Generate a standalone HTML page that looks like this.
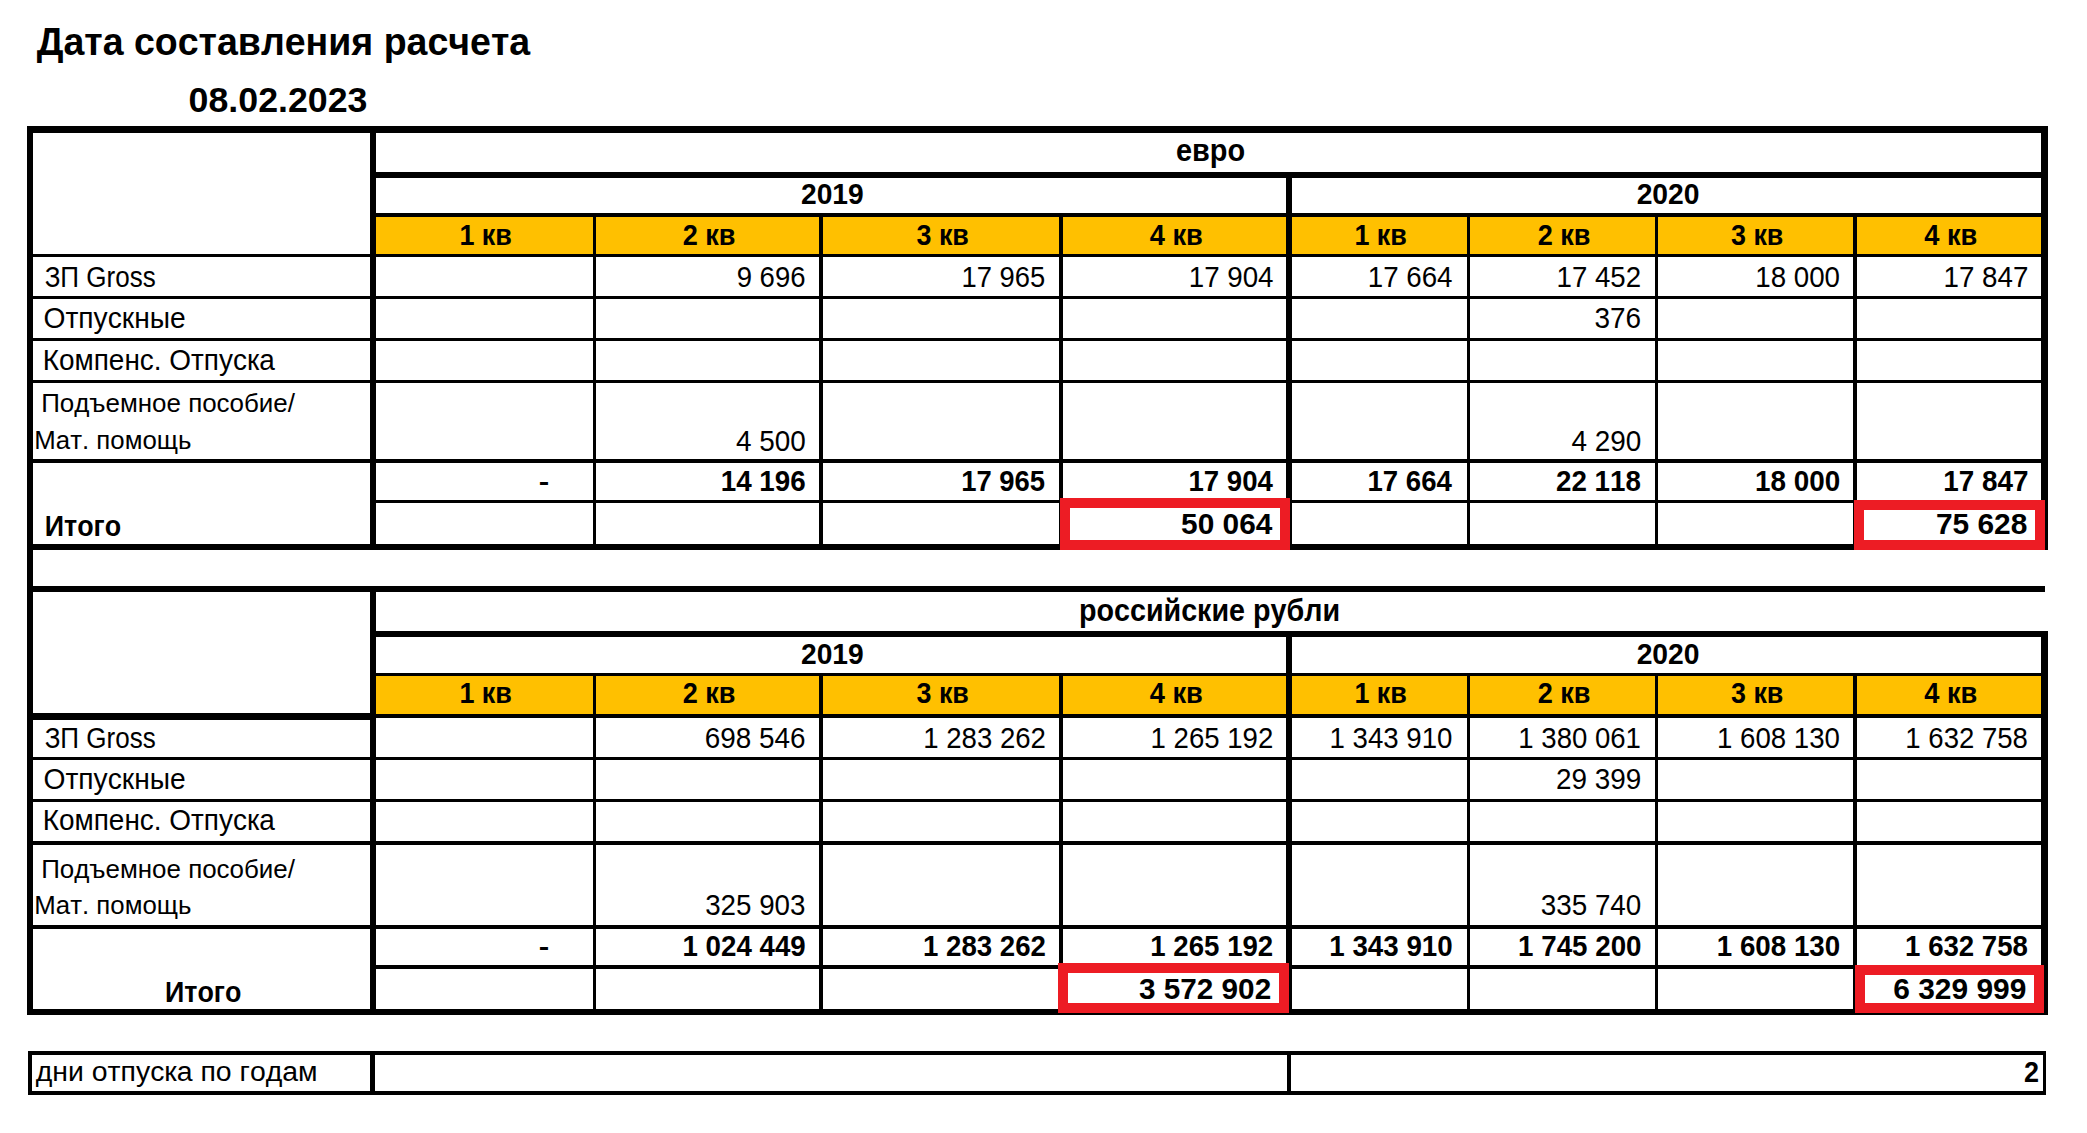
<!DOCTYPE html>
<html><head><meta charset="utf-8"><style>
html,body{margin:0;padding:0;background:#fff;width:2087px;height:1133px;overflow:hidden}
svg{display:block}
text{font-family:"Liberation Sans",sans-serif;fill:#000;font-kerning:none}
</style></head><body>
<svg width="2087" height="1133" viewBox="0 0 2087 1133">
<g shape-rendering="crispEdges">
<rect x="376" y="217" width="1665" height="37" fill="#FFC000"/>
<rect x="27" y="126" width="2021" height="7" fill="#000"/>
<rect x="376" y="172" width="1665" height="6" fill="#000"/>
<rect x="376" y="213" width="1665" height="4" fill="#000"/>
<rect x="33" y="254" width="2008" height="3" fill="#000"/>
<rect x="33" y="296" width="2008" height="3" fill="#000"/>
<rect x="33" y="338" width="2008" height="3" fill="#000"/>
<rect x="33" y="380" width="2008" height="3" fill="#000"/>
<rect x="33" y="459" width="2008" height="4" fill="#000"/>
<rect x="376" y="500" width="1665" height="3" fill="#000"/>
<rect x="27" y="544" width="2021" height="6" fill="#000"/>
<rect x="370" y="126" width="6" height="424" fill="#000"/>
<rect x="2041" y="126" width="7" height="424" fill="#000"/>
<rect x="1286" y="172" width="6" height="378" fill="#000"/>
<rect x="593" y="213" width="3" height="337" fill="#000"/>
<rect x="819" y="213" width="4" height="337" fill="#000"/>
<rect x="1059" y="213" width="4" height="337" fill="#000"/>
<rect x="1467" y="213" width="3" height="337" fill="#000"/>
<rect x="1655" y="213" width="3" height="337" fill="#000"/>
<rect x="1853" y="213" width="4" height="337" fill="#000"/>
<rect x="376" y="676" width="1665" height="38" fill="#FFC000"/>
<rect x="27" y="586" width="2018" height="6" fill="#000"/>
<rect x="376" y="631" width="1665" height="6" fill="#000"/>
<rect x="376" y="673" width="1665" height="3" fill="#000"/>
<rect x="33" y="714" width="2008" height="4" fill="#000"/>
<rect x="33" y="757" width="2008" height="3" fill="#000"/>
<rect x="33" y="799" width="2008" height="3" fill="#000"/>
<rect x="33" y="841" width="2008" height="4" fill="#000"/>
<rect x="33" y="925" width="2008" height="4" fill="#000"/>
<rect x="376" y="965" width="1665" height="4" fill="#000"/>
<rect x="27" y="1009" width="2021" height="6" fill="#000"/>
<rect x="370" y="586" width="6" height="429" fill="#000"/>
<rect x="2041" y="631" width="7" height="384" fill="#000"/>
<rect x="1286" y="631" width="6" height="384" fill="#000"/>
<rect x="593" y="673" width="3" height="342" fill="#000"/>
<rect x="819" y="673" width="4" height="342" fill="#000"/>
<rect x="1059" y="673" width="4" height="342" fill="#000"/>
<rect x="1467" y="673" width="3" height="342" fill="#000"/>
<rect x="1655" y="673" width="3" height="342" fill="#000"/>
<rect x="1853" y="673" width="4" height="342" fill="#000"/>
<rect x="27" y="126" width="6" height="889" fill="#000"/>
<rect x="33" y="713" width="337" height="7" fill="#000"/>
<rect x="1060" y="498" width="230" height="10" fill="#ED1C24"/>
<rect x="1060" y="540" width="230" height="10" fill="#ED1C24"/>
<rect x="1060" y="498" width="10" height="52" fill="#ED1C24"/>
<rect x="1280" y="498" width="10" height="52" fill="#ED1C24"/>
<rect x="1854" y="500" width="191" height="10" fill="#ED1C24"/>
<rect x="1854" y="540" width="191" height="10" fill="#ED1C24"/>
<rect x="1854" y="500" width="10" height="50" fill="#ED1C24"/>
<rect x="2035" y="500" width="10" height="50" fill="#ED1C24"/>
<rect x="1058" y="963" width="231" height="10" fill="#ED1C24"/>
<rect x="1058" y="1003" width="231" height="10" fill="#ED1C24"/>
<rect x="1058" y="963" width="10" height="50" fill="#ED1C24"/>
<rect x="1279" y="963" width="10" height="50" fill="#ED1C24"/>
<rect x="1855" y="965" width="189" height="10" fill="#ED1C24"/>
<rect x="1855" y="1003" width="189" height="10" fill="#ED1C24"/>
<rect x="1855" y="965" width="10" height="48" fill="#ED1C24"/>
<rect x="2034" y="965" width="10" height="48" fill="#ED1C24"/>
<rect x="28" y="1051" width="2018" height="4" fill="#000"/>
<rect x="28" y="1091" width="2018" height="4" fill="#000"/>
<rect x="28" y="1051" width="4" height="44" fill="#000"/>
<rect x="2043" y="1051" width="3" height="44" fill="#000"/>
<rect x="370" y="1051" width="5" height="44" fill="#000"/>
<rect x="1287" y="1051" width="4" height="44" fill="#000"/>
</g>
<text transform="translate(36.67,55.00) scale(0.9555,1)" font-size="39.29" font-weight="bold">Дата составления расчета</text>
<text transform="translate(188.59,112.00) scale(1.0327,1)" font-size="34.61" font-weight="bold">08.02.2023</text>
<text transform="translate(1175.88,160.80) scale(0.9462,1)" font-size="30.58" font-weight="bold">евро</text>
<text transform="translate(800.95,204.00) scale(0.9694,1)" font-size="29.11" font-weight="bold">2019</text>
<text transform="translate(1636.63,204.00) scale(0.9716,1)" font-size="29.11" font-weight="bold">2020</text>
<text transform="translate(459.38,244.80) scale(0.9420,1)" font-size="28.64" font-weight="bold">1 кв</text>
<text transform="translate(682.63,244.80) scale(0.9468,1)" font-size="28.64" font-weight="bold">2 кв</text>
<text transform="translate(916.50,244.80) scale(0.9389,1)" font-size="28.64" font-weight="bold">3 кв</text>
<text transform="translate(1149.75,244.80) scale(0.9520,1)" font-size="28.64" font-weight="bold">4 кв</text>
<text transform="translate(1354.38,244.80) scale(0.9420,1)" font-size="28.64" font-weight="bold">1 кв</text>
<text transform="translate(1537.63,244.80) scale(0.9468,1)" font-size="28.64" font-weight="bold">2 кв</text>
<text transform="translate(1731.00,244.80) scale(0.9389,1)" font-size="28.64" font-weight="bold">3 кв</text>
<text transform="translate(1924.25,244.80) scale(0.9520,1)" font-size="28.64" font-weight="bold">4 кв</text>
<text transform="translate(44.65,287.00) scale(0.9095,1)" font-size="28.64" font-weight="normal">ЗП Gross</text>
<text transform="translate(43.46,328.20) scale(0.9853,1)" font-size="28.64" font-weight="normal">Отпускные</text>
<text transform="translate(42.71,369.90) scale(0.9761,1)" font-size="28.64" font-weight="normal">Компенс. Отпуска</text>
<text transform="translate(41.20,411.80) scale(1.0069,1)" font-size="25.76" font-weight="normal">Подъемное пособие/</text>
<text transform="translate(34.28,448.80) scale(1.0026,1)" font-size="25.76" font-weight="normal">Мат. помощь</text>
<text transform="translate(736.67,287.00) scale(0.9455,1)" font-size="29.11" font-weight="normal">9 696</text>
<text transform="translate(961.46,287.00) scale(0.9410,1)" font-size="29.11" font-weight="normal">17 965</text>
<text transform="translate(1188.74,287.00) scale(0.9522,1)" font-size="29.11" font-weight="normal">17 904</text>
<text transform="translate(1367.74,287.00) scale(0.9522,1)" font-size="29.11" font-weight="normal">17 664</text>
<text transform="translate(1556.54,287.00) scale(0.9496,1)" font-size="29.11" font-weight="normal">17 452</text>
<text transform="translate(1755.24,287.00) scale(0.9520,1)" font-size="29.11" font-weight="normal">18 000</text>
<text transform="translate(1943.53,287.00) scale(0.9534,1)" font-size="29.11" font-weight="normal">17 847</text>
<text transform="translate(1594.53,328.20) scale(0.9602,1)" font-size="29.11" font-weight="normal">376</text>
<text transform="translate(735.88,450.80) scale(0.9585,1)" font-size="29.11" font-weight="normal">4 500</text>
<text transform="translate(1571.48,450.80) scale(0.9585,1)" font-size="29.11" font-weight="normal">4 290</text>
<text transform="translate(538.77,490.43) scale(1.2513,1)" font-size="25.18" font-weight="bold">-</text>
<text transform="translate(720.69,491.00) scale(0.9552,1)" font-size="29.11" font-weight="bold">14 196</text>
<text transform="translate(961.22,491.00) scale(0.9422,1)" font-size="29.11" font-weight="bold">17 965</text>
<text transform="translate(1188.51,491.00) scale(0.9478,1)" font-size="29.11" font-weight="bold">17 904</text>
<text transform="translate(1367.51,491.00) scale(0.9478,1)" font-size="29.11" font-weight="bold">17 664</text>
<text transform="translate(1556.06,491.00) scale(0.9534,1)" font-size="29.11" font-weight="bold">22 118</text>
<text transform="translate(1754.99,491.00) scale(0.9573,1)" font-size="29.11" font-weight="bold">18 000</text>
<text transform="translate(1943.29,491.00) scale(0.9561,1)" font-size="29.11" font-weight="bold">17 847</text>
<text transform="translate(1181.10,534.00) scale(1.0075,1)" font-size="29.61" font-weight="bold">50 064</text>
<text transform="translate(1935.90,534.00) scale(1.0105,1)" font-size="29.61" font-weight="bold">75 628</text>
<text transform="translate(44.72,536.00) scale(0.9345,1)" font-size="28.74" font-weight="bold">Итого</text>
<text transform="translate(1078.93,620.60) scale(0.9384,1)" font-size="30.58" font-weight="bold">российские рубли</text>
<text transform="translate(800.95,664.00) scale(0.9694,1)" font-size="29.11" font-weight="bold">2019</text>
<text transform="translate(1636.63,664.00) scale(0.9716,1)" font-size="29.11" font-weight="bold">2020</text>
<text transform="translate(459.38,703.20) scale(0.9420,1)" font-size="28.64" font-weight="bold">1 кв</text>
<text transform="translate(682.63,703.20) scale(0.9468,1)" font-size="28.64" font-weight="bold">2 кв</text>
<text transform="translate(916.50,703.20) scale(0.9389,1)" font-size="28.64" font-weight="bold">3 кв</text>
<text transform="translate(1149.75,703.20) scale(0.9520,1)" font-size="28.64" font-weight="bold">4 кв</text>
<text transform="translate(1354.38,703.20) scale(0.9420,1)" font-size="28.64" font-weight="bold">1 кв</text>
<text transform="translate(1537.63,703.20) scale(0.9468,1)" font-size="28.64" font-weight="bold">2 кв</text>
<text transform="translate(1731.00,703.20) scale(0.9389,1)" font-size="28.64" font-weight="bold">3 кв</text>
<text transform="translate(1924.25,703.20) scale(0.9520,1)" font-size="28.64" font-weight="bold">4 кв</text>
<text transform="translate(44.65,747.70) scale(0.9095,1)" font-size="28.64" font-weight="normal">ЗП Gross</text>
<text transform="translate(43.46,788.50) scale(0.9853,1)" font-size="28.64" font-weight="normal">Отпускные</text>
<text transform="translate(42.71,830.40) scale(0.9761,1)" font-size="28.64" font-weight="normal">Компенс. Отпуска</text>
<text transform="translate(41.20,877.70) scale(1.0069,1)" font-size="25.76" font-weight="normal">Подъемное пособие/</text>
<text transform="translate(34.28,914.00) scale(1.0026,1)" font-size="25.76" font-weight="normal">Мат. помощь</text>
<text transform="translate(704.74,747.70) scale(0.9582,1)" font-size="29.11" font-weight="normal">698 546</text>
<text transform="translate(923.26,747.70) scale(0.9477,1)" font-size="29.11" font-weight="normal">1 283 262</text>
<text transform="translate(1150.56,747.70) scale(0.9477,1)" font-size="29.11" font-weight="normal">1 265 192</text>
<text transform="translate(1329.56,747.70) scale(0.9493,1)" font-size="29.11" font-weight="normal">1 343 910</text>
<text transform="translate(1518.36,747.70) scale(0.9468,1)" font-size="29.11" font-weight="normal">1 380 061</text>
<text transform="translate(1717.06,747.70) scale(0.9493,1)" font-size="29.11" font-weight="normal">1 608 130</text>
<text transform="translate(1905.36,747.70) scale(0.9468,1)" font-size="29.11" font-weight="normal">1 632 758</text>
<text transform="translate(1555.97,788.50) scale(0.9582,1)" font-size="29.11" font-weight="normal">29 399</text>
<text transform="translate(705.15,915.30) scale(0.9533,1)" font-size="29.11" font-weight="normal">325 903</text>
<text transform="translate(1540.74,915.30) scale(0.9557,1)" font-size="29.11" font-weight="normal">335 740</text>
<text transform="translate(538.77,954.93) scale(1.2513,1)" font-size="25.18" font-weight="bold">-</text>
<text transform="translate(682.52,955.50) scale(0.9519,1)" font-size="29.11" font-weight="bold">1 024 449</text>
<text transform="translate(923.02,955.50) scale(0.9493,1)" font-size="29.11" font-weight="bold">1 283 262</text>
<text transform="translate(1150.32,955.50) scale(0.9493,1)" font-size="29.11" font-weight="bold">1 265 192</text>
<text transform="translate(1329.31,955.50) scale(0.9530,1)" font-size="29.11" font-weight="bold">1 343 910</text>
<text transform="translate(1518.11,955.50) scale(0.9530,1)" font-size="29.11" font-weight="bold">1 745 200</text>
<text transform="translate(1716.81,955.50) scale(0.9530,1)" font-size="29.11" font-weight="bold">1 608 130</text>
<text transform="translate(1905.12,955.50) scale(0.9485,1)" font-size="29.11" font-weight="bold">1 632 758</text>
<text transform="translate(1138.95,998.70) scale(1.0041,1)" font-size="29.61" font-weight="bold">3 572 902</text>
<text transform="translate(1893.19,998.70) scale(1.0111,1)" font-size="29.61" font-weight="bold">6 329 999</text>
<text transform="translate(165.02,1001.80) scale(0.9345,1)" font-size="28.74" font-weight="bold">Итого</text>
<text transform="translate(35.72,1080.50) scale(1.0239,1)" font-size="27.76" font-weight="normal">дни отпуска по годам</text>
<text transform="translate(2024.06,1082.00) scale(0.9427,1)" font-size="28.64" font-weight="bold">2</text>
</svg>
</body></html>
